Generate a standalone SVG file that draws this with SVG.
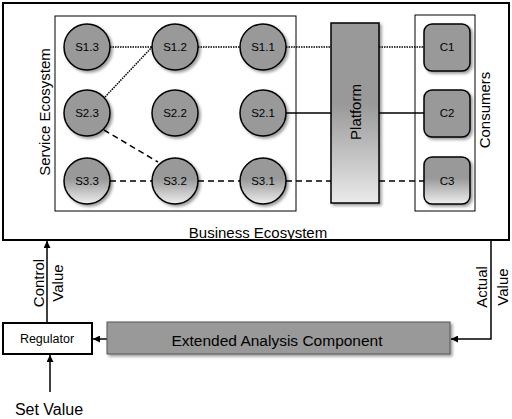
<svg xmlns="http://www.w3.org/2000/svg" width="512" height="419" viewBox="0 0 512 419">
<defs>
<style>
text{font-family:"Liberation Sans","Open Sans",sans-serif;fill:#000}
.box{fill:#fff;stroke:#000;stroke-width:1}
.node{fill:#999;stroke:#000;stroke-width:1.5;filter:url(#sh)}
.lbl{font-size:11.5px;text-anchor:middle;dominant-baseline:central}
.big{font-size:15px;text-anchor:middle;dominant-baseline:central}
.ln{stroke:#000;stroke-width:1.5;fill:none}
.dot{stroke-dasharray:1.5 1}
.dash{stroke-dasharray:6 4}
</style>
<linearGradient id="g3" x1="0" y1="0" x2="0" y2="1">
<stop offset="0.45" stop-color="#999"/>
<stop offset="1" stop-color="#eee"/>
</linearGradient>
<linearGradient id="gp" x1="0" y1="0" x2="0" y2="1">
<stop offset="0.45" stop-color="#999"/>
<stop offset="1" stop-color="#eaeaea"/>
</linearGradient>
<filter id="sh" x="-20%" y="-20%" width="150%" height="150%">
<feGaussianBlur in="SourceAlpha" stdDeviation="1.5"/>
<feOffset dx="2" dy="2" result="b"/>
<feComponentTransfer><feFuncA type="linear" slope="0.4"/></feComponentTransfer>
<feMerge><feMergeNode/><feMergeNode in="SourceGraphic"/></feMerge>
</filter>
<marker id="ah" viewBox="0 0 10 10" refX="10" refY="5" markerWidth="7" markerHeight="7" markerUnits="userSpaceOnUse" orient="auto">
<path d="M0,0 L10,5 L0,10 z" fill="#000"/>
</marker>
</defs>

<g id="business-ecosystem">
<rect x="3" y="3" width="506" height="237" fill="#fff" stroke="#000" stroke-width="2"/>
<text class="big" x="258" y="232">Business Ecosystem</text>
</g>
<g id="service-ecosystem">
<rect class="box" x="55" y="16" width="241" height="195"/>
<text class="big" transform="translate(44,112) rotate(-90)">Service Ecosystem</text>
</g>
<g id="consumers">
<rect class="box" x="415" y="15" width="60" height="196"/>
<text class="big" transform="translate(484,110) rotate(-90)">Consumers</text>
</g>

<g id="connectors">
<line class="ln dot" x1="110" y1="47" x2="152" y2="47"/>
<line class="ln dot" x1="198" y1="47" x2="240" y2="47"/>
<line class="ln dot" x1="286" y1="47" x2="331" y2="47"/>
<line class="ln dot" x1="379" y1="47" x2="424" y2="47"/>
<line class="ln dot" x1="105" y1="97" x2="153" y2="46"/>
<line class="ln" x1="286" y1="113" x2="331" y2="113"/>
<line class="ln" x1="379" y1="113" x2="424" y2="113"/>
<line class="ln dash" x1="104" y1="130" x2="158" y2="162"/>
<line class="ln dash" x1="110" y1="181" x2="152" y2="181"/>
<line class="ln dash" x1="198" y1="181" x2="240" y2="181"/>
<line class="ln dash" x1="286" y1="181" x2="331" y2="181"/>
<line class="ln dash" x1="379" y1="181" x2="424" y2="181"/>
<line class="ln" x1="47" y1="323" x2="47" y2="241" marker-end="url(#ah)"/>
<line class="ln" x1="50" y1="392" x2="50" y2="355" marker-end="url(#ah)"/>
<line class="ln" x1="107" y1="339" x2="93" y2="339" marker-end="url(#ah)"/>
<polyline class="ln" points="491,240 491,339 451,339" marker-end="url(#ah)"/>
</g>

<g id="S1.3"><circle class="node" cx="87" cy="47" r="23"/><text class="lbl" x="87" y="47">S1.3</text></g>
<g id="S1.2"><circle class="node" cx="175" cy="47" r="23"/><text class="lbl" x="175" y="47">S1.2</text></g>
<g id="S1.1"><circle class="node" cx="263" cy="47" r="23"/><text class="lbl" x="263" y="47">S1.1</text></g>
<g id="S2.3"><circle class="node" cx="87" cy="113" r="23"/><text class="lbl" x="87" y="113">S2.3</text></g>
<g id="S2.2"><circle class="node" cx="175" cy="113" r="23"/><text class="lbl" x="175" y="113">S2.2</text></g>
<g id="S2.1"><circle class="node" cx="263" cy="113" r="23"/><text class="lbl" x="263" y="113">S2.1</text></g>
<g id="S3.3"><circle class="node" cx="87" cy="181" r="23" style="fill:url(#g3)"/><text class="lbl" x="87" y="181">S3.3</text></g>
<g id="S3.2"><circle class="node" cx="175" cy="181" r="23" style="fill:url(#g3)"/><text class="lbl" x="175" y="181">S3.2</text></g>
<g id="S3.1"><circle class="node" cx="263" cy="181" r="23" style="fill:url(#g3)"/><text class="lbl" x="263" y="181">S3.1</text></g>

<g id="platform">
<rect class="node" x="331" y="23" width="48" height="180" style="fill:url(#gp)"/>
<text class="big" transform="translate(355,112) rotate(-90)">Platform</text>
</g>

<g id="C1"><rect class="node" x="424" y="24" width="46" height="47" rx="8"/><text class="lbl" x="447" y="47">C1</text></g>
<g id="C2"><rect class="node" x="424" y="90" width="46" height="47" rx="8"/><text class="lbl" x="447" y="113">C2</text></g>
<g id="C3"><rect class="node" x="424" y="157" width="46" height="47" rx="8" style="fill:url(#g3)"/><text class="lbl" x="447" y="181">C3</text></g>

<g id="regulator">
<rect x="3" y="323" width="89" height="31" fill="#fff" stroke="#000" stroke-width="2"/>
<text class="lbl" x="47" y="339" style="font-size:12.5px">Regulator</text>
</g>
<g id="extended-analysis">
<rect x="107" y="322" width="343" height="32" fill="#999" stroke="#555" stroke-width="1" filter="url(#sh)"/>
<text class="big" x="277" y="340" style="font-size:15.5px">Extended Analysis Component</text>
</g>

<g id="labels">
<text class="big" transform="translate(38,283) rotate(-90)">Control</text>
<text class="big" transform="translate(57,283) rotate(-90)">Value</text>
<text class="big" transform="translate(481,287) rotate(-90)">Actual</text>
<text class="big" transform="translate(502,287) rotate(-90)">Value</text>
<text class="big" x="49" y="409" style="font-size:16px">Set Value</text>
</g>
</svg>
